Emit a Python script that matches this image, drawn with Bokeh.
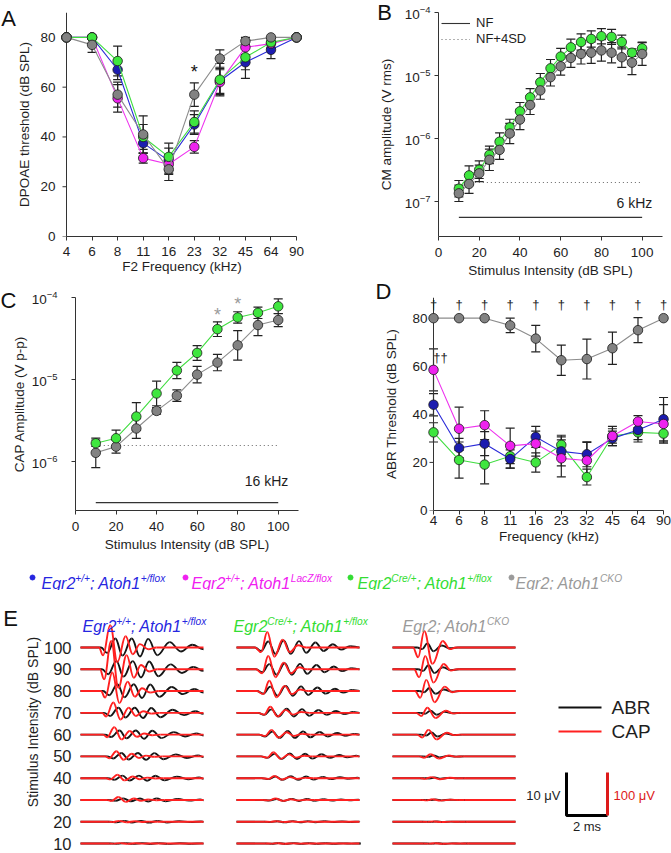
import math
from bokeh.plotting import figure
from bokeh.models import (Range1d, FixedTicker, LogTickFormatter, Whisker, TeeHead,
                          ColumnDataSource, Label, Legend, LegendItem)
from bokeh.layouts import column, row
from bokeh.embed import file_html
from bokeh.resources import INLINE
from bokeh.core.properties import value

# ======================= DATA =======================
FREQ_LABELS = ["4", "6", "8", "11", "16", "23", "32", "45", "64", "90"]
THR_TICKS = [0, 20, 40, 60, 80]

# Panel A: DPOAE thresholds (dB SPL) and SE
A_BLUE = [80, 80, 67, 37.5, 30.5, 45, 62.5, 70, 75, 80]
A_BLUE_SE = [0, 0, 4, 4, 5, 4, 5, 6.5, 3.5, 0]
A_MAG = [80, 80, 55.5, 31.5, 29, 36, 62, 76, 77.5, 80]
A_MAG_SE = [0, 0, 5.5, 2, 4, 2.5, 5, 3, 2, 0]
A_GRN = [80, 80, 70.5, 40, 32, 46, 63, 72, 78, 80]
A_GRN_SE = [0, 0, 6, 5, 5.5, 4.5, 6.5, 5, 2, 0]
A_GRY = [80, 77, 57, 41, 27, 57, 71.5, 78.5, 80, 80]
A_GRY_SE = [0, 3, 5, 7.5, 4.5, 4.7, 3.5, 1.5, 0, 0]
A_STAR_IDX, A_STAR_Y = 5, 66

# Panel B: CM amplitude (V rms); SE in decades
B_LEVELS = [10, 15, 20, 25, 30, 35, 40, 45, 50, 55, 60, 65, 70, 75, 80, 85, 90, 95, 100]
B_GRN = [1.6e-7, 2.6e-7, 3.2e-7, 5.5e-7, 8.9e-7, 1.5e-6, 2.7e-6, 4.5e-6, 7.8e-6, 1.3e-5,
         2.0e-5, 2.8e-5, 3.4e-5, 3.8e-5, 4.2e-5, 4.1e-5, 3.4e-5, 2.3e-5, 2.7e-5]
B_GRN_SE = [0.13, 0.15, 0.14, 0.14, 0.14, 0.13, 0.14, 0.14, 0.14, 0.14,
            0.13, 0.13, 0.13, 0.13, 0.12, 0.12, 0.11, 0.06, 0.10]
B_GRY = [1.35e-7, 1.9e-7, 2.8e-7, 4.6e-7, 6.6e-7, 1.2e-6, 2.0e-6, 3.4e-6, 5.8e-6, 9.4e-6,
         1.4e-5, 1.9e-5, 2.2e-5, 2.3e-5, 2.5e-5, 2.3e-5, 1.95e-5, 1.6e-5, 2.2e-5]
B_GRY_SE = [0.13, 0.15, 0.13, 0.17, 0.15, 0.16, 0.16, 0.15, 0.14, 0.14,
            0.14, 0.15, 0.16, 0.17, 0.17, 0.16, 0.16, 0.19, 0.18]
B_NF, B_NF4SD = 5.6e-8, 2.0e-7
B_NF_X = [10, 100]

# Panel C: CAP amplitude (V p-p); SE in decades
C_LEVELS = [10, 20, 30, 40, 50, 60, 70, 80, 90, 100]
C_GRN = [1.65e-6, 1.9e-6, 3.5e-6, 6.7e-6, 1.28e-5, 2.1e-5, 4.1e-5, 5.7e-5, 6.5e-5, 7.8e-5]
C_GRN_SE = [0.04, 0.10, 0.17, 0.15, 0.10, 0.09, 0.09, 0.07, 0.07, 0.09]
C_GRY = [1.26e-6, 1.5e-6, 2.5e-6, 4.1e-6, 6.3e-6, 1.14e-5, 1.6e-5, 2.6e-5, 4.6e-5, 5.3e-5]
C_GRY_SE = [0.18, 0.08, 0.12, 0.04, 0.07, 0.10, 0.10, 0.18, 0.13, 0.08]
C_NF, C_NF4SD = 3.1e-7, 1.55e-6
C_NF_X = [10, 100]
C_STAR_X = [70, 80]
C_STAR_Y = [10 ** -4.21, 10 ** -4.08]

# Panel D: ABR thresholds (dB SPL) and SE
D_BLUE = [44, 26, 27.8, 21.4, 30.6, 24.6, 23.4, 30, 33.5, 38]
D_BLUE_SE = [4.6, 4, 5, 3.8, 4.4, 6, 5.2, 3, 4, 9]
D_MAG = [58.5, 34, 35.5, 26.9, 27.8, 21.7, 20.8, 31, 37, 36]
D_MAG_SE = [8.7, 9, 6, 7.4, 5.2, 7.7, 7.5, 3, 2.5, 8]
D_GRN = [32.5, 21, 19.1, 22.6, 20, 27.3, 13.9, 31, 32.5, 32]
D_GRN_SE = [4, 7.5, 8, 5, 4, 4, 3.3, 4, 4, 3.5]
D_GRY = [80, 80, 80, 77, 71.5, 62.5, 63, 67.5, 75, 80]
D_GRY_SE = [0, 0, 0, 3, 5.5, 6.3, 8.3, 6.7, 5.2, 0]
D_DAGGER_Y = 85.5
D_DDAG_X, D_DDAG_Y = 0.27, 63.5

# Panel E: waveform key points (time ms, normalised value), amplitudes per level (uV)
E_LEVELS = [100, 90, 80, 70, 60, 50, 40, 30, 20, 10]
E_SHIFT = [0.0, 0.05, 0.1, 0.15, 0.2, 0.3, 0.35, 0.4, 0.45, 0.5]
E1_ABR_T = [0, 1.0, 1.3, 1.7, 2.05, 2.5, 2.9, 3.3, 3.75, 4.35, 4.9, 5.45, 6.0]
E1_ABR_V = [0, 0, -0.6, 1.0, -0.9, 1.0, -1.0, 0.95, -0.85, 0.6, -0.45, 0.3, -0.2]
E1_ABR_UV = [2.1, 1.9, 1.6, 1.2, 0.95, 0.8, 0.6, 0.35, 0.2, 0.1]
E1_CAP_T = [0, 0.9, 1.1, 1.45, 1.8, 2.2, 2.55, 2.9, 3.3, 3.7, 6.0]
E1_CAP_V = [0, 0, -0.35, 1.0, -0.65, 0.5, -0.3, 0.15, -0.08, 0, 0]
E1_CAP_UV = [52, 66, 43, 24, 17, 12, 8, 7, 2, 1]
E2_ABR_T = [0, 0.9, 1.2, 1.55, 1.9, 2.3, 2.65, 3.05, 3.4, 3.85, 4.25, 4.7, 5.1, 5.55, 6.0]
E2_ABR_V = [0, 0, -0.5, 0.85, -0.9, 1.0, -0.9, 0.9, -0.75, 0.7, -0.5, 0.45, -0.3, 0.2, 0]
E2_ABR_UV = [1.65, 1.4, 1.2, 0.95, 0.85, 0.7, 0.45, 0.25, 0.15, 0.1]
E2_CAP_T = [0, 0.9, 1.2, 1.5, 1.85, 2.25, 2.6, 3.0, 3.4, 6.0]
E2_CAP_V = [0, 0, -0.3, 1.0, -0.6, 0.5, -0.3, 0.15, 0, 0]
E2_CAP_UV = [36, 31, 24, 14, 11, 9.5, 5, 3.5, 1.2, 0.7]
E3_ABR_T = [0, 1.2, 1.45, 1.7, 2.0, 2.4, 2.8, 3.2, 6.0]
E3_ABR_V = [0, 0, -0.4, 1.0, -0.9, 0.5, -0.2, 0, 0]
E3_ABR_UV = [0.95, 0.95, 0.7, 0.5, 0.5, 0.25, 0.15, 0.1, 0.07, 0.07]
E3_CAP_T = [0, 1.0, 1.25, 1.55, 1.95, 2.45, 2.8, 3.1, 6.0]
E3_CAP_V = [0, 0, -0.6, 1.0, -1.0, 0.4, -0.1, 0, 0]
E3_CAP_UV = [38, 31, 26, 12, 11, 5, 2.5, 1.5, 0.7, 0.5]
SCALE_ABR_UV, SCALE_CAP_UV, SCALE_MS = 10, 100, 2

GENOTYPES = [
    [("Egr2", 0), ("+/+", 1), ("; Atoh1", 0), ("+/flox", 1)],
    [("Egr2", 0), ("+/+", 1), ("; Atoh1", 0), ("LacZ/flox", 1)],
    [("Egr2", 0), ("Cre/+", 1), ("; Atoh1", 0), ("+/flox", 1)],
    [("Egr2; Atoh1", 0), ("CKO", 1)],
]

# ======================= STYLE =======================
FONT = "Liberation Sans"
TXT = "#1e1e1e"
AXC = "#333333"
K_BLUE, L_BLUE, T_BLUE = "#1c1cb0", "#2a2ad8", "#2626e0"
K_MAG, L_MAG, T_MAG = "#ee22ee", "#ee33ee", "#f020f0"
K_GRN, L_GRN, T_GRN = "#3ee63e", "#40dd40", "#33dd33"
K_GRY, L_GRY, T_GRY = "#828282", "#8c8c8c", "#9a9a9a"
ERRC = "#222222"

AW = {'E': 667, 'g': 556, 'r': 333, '2': 556, ';': 278, ' ': 278, 'A': 667, 't': 278,
      'o': 556, 'h': 556, '1': 556, '+': 584, '/': 278, 'f': 278, 'l': 222, 'x': 500,
      'L': 556, 'a': 556, 'c': 500, 'Z': 611, 'C': 722, 'e': 556, 'K': 667, 'O': 778}


def tw(s, fs):
    return sum(AW.get(ch, 556) for ch in s) * fs / 1000.0


class Geo:
    def __init__(self, fl, ft, fw, fh, xr, yr, ylog=False):
        self.fl, self.ft, self.fw, self.fh = fl, ft, fw, fh
        self.xr, self.yr, self.ylog = xr, yr, ylog

    def to_data(self, px, py):
        x = self.xr[0] + (px - self.fl) / self.fw * (self.xr[1] - self.xr[0])
        f = (py - self.ft) / self.fh
        if self.ylog:
            a, b = math.log10(self.yr[0]), math.log10(self.yr[1])
            y = 10 ** (b - f * (b - a))
        else:
            y = self.yr[1] - f * (self.yr[1] - self.yr[0])
        return x, y

    def dx(self, px):
        return px / self.fw * (self.xr[1] - self.xr[0])

    def dy(self, px):
        return px / self.fh * (self.yr[1] - self.yr[0])


def make_fig(ox, oy, w, h, xr, yr, mbl, mbr, mbt, mbb, ylog=False, axes=True):
    kw = {}
    if not axes:
        kw = dict(x_axis_location=None, y_axis_location=None)
    p = figure(width=w, height=h, x_range=Range1d(*xr), y_range=Range1d(*yr),
               y_axis_type="log" if ylog else "linear", output_backend="svg",
               toolbar_location=None, min_border_left=mbl, min_border_right=mbr,
               min_border_top=mbt, min_border_bottom=mbb, **kw)
    p.grid.visible = False
    p.outline_line_color = None
    p.background_fill_color = "white"
    p.border_fill_color = "white"
    geo = Geo(ox + mbl, oy + mbt, w - mbl - mbr, h - mbt - mbb, xr, yr, ylog)
    return p, geo


def style_axes(p, xlabel, ylabel, xs=(5, 1), ys=(6, 6)):
    for ax in p.axis:
        ax.axis_line_color = AXC
        ax.axis_line_width = 1
        ax.major_tick_line_color = AXC
        ax.major_tick_out = 4
        ax.major_tick_in = 0
        ax.minor_tick_line_color = None
        ax.major_label_text_font = FONT
        ax.major_label_text_font_size = "13.5px"
        ax.major_label_text_color = TXT
        ax.axis_label_text_font = FONT
        ax.axis_label_text_font_size = "13.5px"
        ax.axis_label_text_font_style = "normal"
        ax.axis_label_text_color = TXT
    p.xaxis.axis_label = xlabel
    p.yaxis.axis_label = ylabel
    p.xaxis.major_label_standoff = xs[0]
    p.xaxis.axis_label_standoff = xs[1]
    p.yaxis.major_label_standoff = ys[0]
    p.yaxis.axis_label_standoff = ys[1]


def inner_yaxis(p, geo, top):
    """y axis drawn at x = 0 (first frequency), tick labels from the frame-edge axis."""
    ya = p.yaxis[0]
    ya.ticker = FixedTicker(ticks=THR_TICKS)
    ya.axis_line_color = None
    ya.major_tick_line_color = None
    ya.major_tick_out = 0
    p.line([0, 0], [0, top], line_color=AXC, line_width=1)
    n = len(THR_TICKS)
    p.segment(x0=[0] * n, y0=THR_TICKS, x1=[-geo.dx(4)] * n, y1=THR_TICKS,
              line_color=AXC, line_width=1)


def letter(p, geo, px, py, txt, side):
    """Panel letter, placed in a border panel so that it is not clipped to the frame."""
    x, y = geo.to_data(px, py)
    p.add_layout(Label(x=x, y=y, text=txt, text_font=FONT, text_font_size="22px",
                       text_color="#111111", text_align="center", text_baseline="middle"), side)


def errbars(p, xs, ys, se, log=False, size=9):
    sel = [i for i, e in enumerate(se) if e > 0]
    if log:
        up = [ys[i] * 10 ** se[i] for i in sel]
        lo = [ys[i] / 10 ** se[i] for i in sel]
    else:
        up = [ys[i] + se[i] for i in sel]
        lo = [ys[i] - se[i] for i in sel]
    src = ColumnDataSource(dict(x=[xs[i] for i in sel], up=up, lo=lo))
    w = Whisker(source=src, base="x", upper="up", lower="lo", line_color=ERRC, line_width=1.2,
                upper_head=TeeHead(size=size, line_color=ERRC, line_width=1.2),
                lower_head=TeeHead(size=size, line_color=ERRC, line_width=1.2))
    p.add_layout(w)


def series(p, xs, ys, fill, line):
    p.line(xs, ys, line_color=line, line_width=1.1)
    p.scatter(xs, ys, size=9.5, fill_color=fill, line_color="#1a1a1a", line_width=0.8)


def rich(p, geo, px, py, pieces, color, fs=16, fss=10.2, raise_px=5):
    """Base text + superscripts as text glyphs, left-aligned, baseline at page pixel (px, py)."""
    x, y = geo.to_data(px, py)
    off = 0.0
    for s, sup in pieces:
        size = fss if sup else fs
        p.text(x=[x], y=[y], text=[s], x_offset=off, y_offset=-raise_px if sup else 0,
               text_font=value(FONT), text_font_style="italic", text_font_size=f"{size}px",
               text_color=color, text_align="left", text_baseline="alphabetic")
        off += tw(s, size)


IDX = list(range(len(FREQ_LABELS)))
XR_FREQ = (-0.235, 9.272)

# ======================= PANEL A =======================
pA, gA = make_fig(0, 0, 330, 280, XR_FREQ, (0, 90), 60, 27, 5, 43)
style_axes(pA, "F2 Frequency (kHz)", "DPOAE threshold (dB SPL)", xs=(6, 0), ys=(5, 5))
pA.xaxis.ticker = FixedTicker(ticks=IDX)
pA.xaxis.major_label_overrides = {i: lab for i, lab in zip(IDX, FREQ_LABELS)}
pA.xaxis.bounds = (0, 9)
inner_yaxis(pA, gA, 90)
for ys_, se_ in [(A_BLUE, A_BLUE_SE), (A_MAG, A_MAG_SE), (A_GRN, A_GRN_SE), (A_GRY, A_GRY_SE)]:
    errbars(pA, IDX, ys_, se_)
series(pA, IDX, A_BLUE, K_BLUE, L_BLUE)
series(pA, IDX, A_MAG, K_MAG, L_MAG)
series(pA, IDX, A_GRN, K_GRN, L_GRN)
series(pA, IDX, A_GRY, K_GRY, L_GRY)
pA.text(x=[A_STAR_IDX], y=[A_STAR_Y], text=["*"], text_font=value(FONT), text_font_size="18px",
        text_color="#111111", text_align="center", text_baseline="middle")
letter(pA, gA, 8, 11.5, "A", "right")

# ======================= PANEL B =======================
pB, gB = make_fig(330, 0, 341, 280, (0, 110), (10 ** -7.555, 1e-4), 108, 9, 12, 43, ylog=True)
style_axes(pB, "Stimulus Intensity (dB SPL)", "CM amplitude (V rms)", xs=(7, 3), ys=(4, 8))
pB.xaxis.ticker = FixedTicker(ticks=[0, 20, 40, 60, 80, 100])
pB.yaxis.ticker = FixedTicker(ticks=[1e-7, 1e-6, 1e-5, 1e-4])
pB.yaxis.formatter = LogTickFormatter()
r_nf = pB.line(B_NF_X, [B_NF, B_NF], line_color="#333333", line_width=1.1)
r_sd = pB.line(B_NF_X, [B_NF4SD, B_NF4SD], line_color="#666666", line_width=1.1, line_dash="1 3")
errbars(pB, B_LEVELS, B_GRN, B_GRN_SE, log=True)
errbars(pB, B_LEVELS, B_GRY, B_GRY_SE, log=True)
series(pB, B_LEVELS, B_GRN, K_GRN, L_GRN)
series(pB, B_LEVELS, B_GRY, K_GRY, L_GRY)
pB.text(x=[105], y=[9.5e-8], text=["6 kHz"], text_font=value(FONT), text_font_size="14px",
        text_color=TXT, text_align="right", text_baseline="middle")
leg = Legend(items=[LegendItem(label="NF", renderers=[r_nf]),
                    LegendItem(label="NF+4SD", renderers=[r_sd])],
             location="top_left", margin=3, padding=2, spacing=1, glyph_width=29,
             glyph_height=14, label_height=14, label_standoff=6,
             label_text_font=FONT, label_text_font_size="13px", label_text_color=TXT,
             border_line_color=None, background_fill_alpha=0)
pB.add_layout(leg)
letter(pB, gB, 384, 11.5, "B", "left")

# ======================= PANEL C =======================
pC, gC = make_fig(0, 280, 330, 278, (0, 110), (10 ** -6.605, 1e-4), 75, 32, 6, 48, ylog=True)
style_axes(pC, "Stimulus Intensity (dB SPL)", "CAP Amplitude (V p-p)", xs=(7, 3), ys=(14, 2))
pC.xaxis.ticker = FixedTicker(ticks=[0, 20, 40, 60, 80, 100])
pC.yaxis.ticker = FixedTicker(ticks=[1e-6, 1e-5, 1e-4])
pC.yaxis.formatter = LogTickFormatter()
pC.line(C_NF_X, [C_NF, C_NF], line_color="#333333", line_width=1.1)
pC.line(C_NF_X, [C_NF4SD, C_NF4SD], line_color="#666666", line_width=1.1, line_dash="1 3")
errbars(pC, C_LEVELS, C_GRN, C_GRN_SE, log=True)
errbars(pC, C_LEVELS, C_GRY, C_GRY_SE, log=True)
series(pC, C_LEVELS, C_GRY, K_GRY, L_GRY)
series(pC, C_LEVELS, C_GRN, K_GRN, L_GRN)
pC.text(x=C_STAR_X, y=C_STAR_Y, text=["*", "*"], text_font=value(FONT), text_font_size="18px",
        text_color="#9a9a9a", text_align="center", text_baseline="middle")
pC.text(x=[105], y=[5.7e-7], text=["16 kHz"], text_font=value(FONT), text_font_size="14px",
        text_color=TXT, text_align="right", text_baseline="middle")
letter(pC, gC, 8, 289, "C", "right")

# ======================= PANEL D =======================
pD, gD = make_fig(330, 280, 341, 278, XR_FREQ, (0, 88.6), 97, 1, 17, 37)
style_axes(pD, "Frequency (kHz)", "ABR Threshold (dB SPL)", xs=(1, 1), ys=(0, 10))
pD.xaxis.ticker = FixedTicker(ticks=IDX)
pD.xaxis.major_label_overrides = {i: lab for i, lab in zip(IDX, FREQ_LABELS)}
pD.xaxis.bounds = (0, 9)
inner_yaxis(pD, gD, 88.6)
for ys_, se_ in [(D_BLUE, D_BLUE_SE), (D_MAG, D_MAG_SE), (D_GRN, D_GRN_SE), (D_GRY, D_GRY_SE)]:
    errbars(pD, IDX, ys_, se_)
series(pD, IDX, D_GRY, K_GRY, L_GRY)
series(pD, IDX, D_GRN, K_GRN, L_GRN)
series(pD, IDX, D_BLUE, K_BLUE, L_BLUE)
series(pD, IDX, D_MAG, K_MAG, L_MAG)
pD.text(x=IDX, y=[D_DAGGER_Y] * len(IDX), text=["\u2020"] * len(IDX), text_font=value(FONT),
        text_font_size="13px", text_color="#222222", text_align="center", text_baseline="middle")
pD.text(x=[D_DDAG_X], y=[D_DDAG_Y], text=["\u2020\u2020"], text_font=value(FONT),
        text_font_size="13px", text_color="#222222", text_align="center", text_baseline="middle")
letter(pD, gD, 383, 291, "D", "left")

# ======================= GENOTYPE KEY ROW =======================
pL, gL = make_fig(0, 558, 671, 32, (0, 671), (32, 0), 0, 0, 0, 0, axes=False)
KEY_BULLET_PX = [32, 185, 350, 511]
KEY_TEXT_PX = [41, 191, 357, 515]
KEY_BASE_PY = 582.5
KEY_COLORS = [T_BLUE, T_MAG, T_GRN, T_GRY]
_, key_bullet_y = gL.to_data(0, KEY_BASE_PY - 5.5)
pL.scatter(KEY_BULLET_PX, [key_bullet_y] * 4, size=5, fill_color=KEY_COLORS,
           line_color=KEY_COLORS)
for tx, pieces, col in zip(KEY_TEXT_PX, GENOTYPES, KEY_COLORS):
    rich(pL, gL, tx, KEY_BASE_PY, pieces, col)

# ======================= PANEL E =======================
ROW_PX = 21.78                  # pixels per 10 dB row
DB_PER_PX = 10 / ROW_PX
BAR_PX = 43.0                   # scale-bar height in pixels
E_TOP_Y = 100 + 57 * DB_PER_PX
E_XR = (-0.390, 28.83)
E_YR = (E_TOP_Y - 263 * DB_PER_PX, E_TOP_Y)
pE, gE = make_fig(0, 590, 671, 263, E_XR, E_YR, 72, 0, 0, 0)
pE.xaxis.visible = False
ax = pE.yaxis[0]
ax.ticker = FixedTicker(ticks=E_LEVELS)
ax.axis_line_color = None
ax.major_tick_line_color = None
ax.major_tick_out = 0
ax.minor_tick_line_color = None
ax.major_label_standoff = 1
ax.major_label_text_font = FONT
ax.major_label_text_font_size = "16.5px"
ax.major_label_text_color = TXT
ax.axis_label = "Stimulus Intensity (dB SPL)"
ax.axis_label_text_font = FONT
ax.axis_label_text_font_size = "14px"
ax.axis_label_text_font_style = "normal"
ax.axis_label_text_color = TXT
ax.axis_label_standoff = 0

ABR_GAIN = BAR_PX * DB_PER_PX / SCALE_ABR_UV   # dB-units per uV (ABR)
CAP_GAIN = BAR_PX * DB_PER_PX / SCALE_CAP_UV   # dB-units per uV (CAP)
E_COL_OFF = [0, 7.61, 15.22]


def segs(ts, vs, amps, gain, xoff):
    d = dict(x0=[], y0=[], x1=[], y1=[], cx0=[], cy0=[], cx1=[], cy1=[])
    for lev, amp, sh in zip(E_LEVELS, amps, E_SHIFT):
        tt = [ts[0]] + [t + sh for t in ts[1:-1]] + [ts[-1]]
        yy = [lev + gain * amp * v for v in vs]
        for i in range(len(tt) - 1):
            a, b = tt[i] + xoff, tt[i + 1] + xoff
            dd = b - a
            d["x0"].append(a); d["y0"].append(yy[i])
            d["x1"].append(b); d["y1"].append(yy[i + 1])
            d["cx0"].append(a + 0.4 * dd); d["cy0"].append(yy[i])
            d["cx1"].append(b - 0.4 * dd); d["cy1"].append(yy[i + 1])
    return ColumnDataSource(d)


E_SETS = [
    (E1_ABR_T, E1_ABR_V, E1_ABR_UV, E1_CAP_T, E1_CAP_V, E1_CAP_UV),
    (E2_ABR_T, E2_ABR_V, E2_ABR_UV, E2_CAP_T, E2_CAP_V, E2_CAP_UV),
    (E3_ABR_T, E3_ABR_V, E3_ABR_UV, E3_CAP_T, E3_CAP_V, E3_CAP_UV),
]
for off, (at, av, au, ct, cv, cu) in zip(E_COL_OFF, E_SETS):
    pE.bezier(x0="x0", y0="y0", x1="x1", y1="y1", cx0="cx0", cy0="cy0", cx1="cx1", cy1="cy1",
              source=segs(at, av, au, ABR_GAIN, off), line_color="#151515", line_width=1.9)
for off, (at, av, au, ct, cv, cu) in zip(E_COL_OFF, E_SETS):
    pE.bezier(x0="x0", y0="y0", x1="x1", y1="y1", cx0="cx0", cy0="cy0", cx1="cx1", cy1="cy1",
              source=segs(ct, cv, cu, CAP_GAIN, off), line_color="#ff2020", line_width=1.9)

# column titles (baseline at page y 626)
E_TITLE_PX = [82, 233, 402]
for tx, idx, col in zip(E_TITLE_PX, [0, 2, 3], [T_BLUE, T_GRN, T_GRY]):
    rich(pE, gE, tx, 626, GENOTYPES[idx], col)

# ABR / CAP key
kx0, ky_abr = gE.to_data(558, 707)
kx1, ky_cap = gE.to_data(601, 731)
ktx, _ = gE.to_data(611, 0)
pE.line([kx0, kx1], [ky_abr] * 2, line_color="#111111", line_width=2)
pE.line([kx0, kx1], [ky_cap] * 2, line_color="#ff2020", line_width=2)
pE.text(x=[ktx, ktx], y=[ky_abr, ky_cap], text=["ABR", "CAP"], text_font=value(FONT),
        text_font_size="19px", text_color=TXT, text_align="left", text_baseline="middle")

# scale bar
SB_X, SB_Y = gE.to_data(566, 815)
pE.line([SB_X, SB_X, SB_X + SCALE_MS], [SB_Y + SCALE_ABR_UV * ABR_GAIN, SB_Y, SB_Y],
        line_color="#000000", line_width=3)
pE.line([SB_X + SCALE_MS, SB_X + SCALE_MS], [SB_Y, SB_Y + SCALE_CAP_UV * CAP_GAIN],
        line_color="#dd1a1a", line_width=3)
lab_y = SB_Y + gE.dy(20)
pE.text(x=[SB_X - gE.dx(6)], y=[lab_y], text=["10 \u03bcV"], text_font=value(FONT),
        text_font_size="13px", text_color=TXT, text_align="right", text_baseline="middle")
pE.text(x=[SB_X + SCALE_MS + gE.dx(6)], y=[lab_y], text=["100 \u03bcV"], text_font=value(FONT),
        text_font_size="13px", text_color="#dd1a1a", text_align="left", text_baseline="middle")
pE.text(x=[SB_X + SCALE_MS / 2], y=[SB_Y - gE.dy(11)], text=["2 ms"], text_font=value(FONT),
        text_font_size="13px", text_color=TXT, text_align="center", text_baseline="middle")
letter(pE, gE, 10, 618, "E", "left")

layout = column(row(pA, pB), row(pC, pD), row(pL), pE)
open("out.html", "w").write(file_html(layout, INLINE))
